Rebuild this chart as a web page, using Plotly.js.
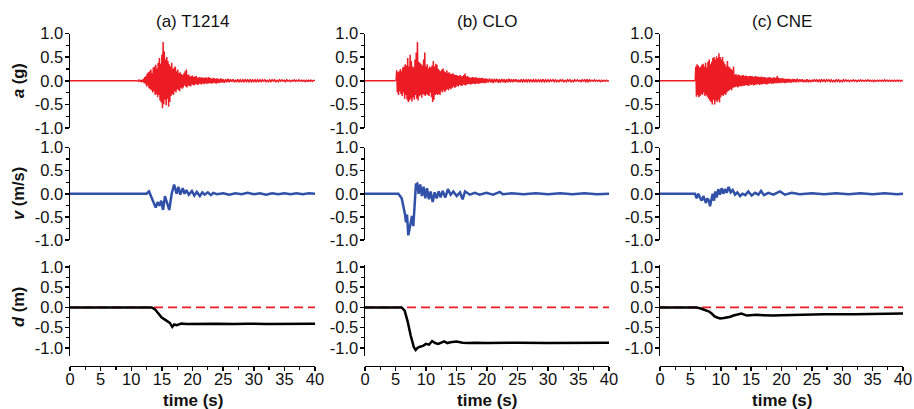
<!DOCTYPE html>
<html><head><meta charset="utf-8">
<script src="https://cdn.plot.ly/plotly-3.0.1.min.js"></script>
<style>html,body{margin:0;padding:0;background:#fff}#chart{width:914px;height:409px}</style>
</head><body><div id="chart"></div>
<script>
// ---------- labels ----------
const stationTitles = ['(a) T1214', '(b) CLO', '(c) CNE'];
const rowTitles = ['<b><i>a</i> (g)</b>', '<b><i>v</i> (m/s)</b>', '<b><i>d</i> (m)</b>'];
const timeTitle = '<b>time (s)</b>';
const timeTicks = [0, 5, 10, 15, 20, 25, 30, 35, 40];
const timeTickText = ['0', '5', '10', '15', '20', '25', '30', '35', '40'];
const timeMinorTicks = [2.5, 7.5, 12.5, 17.5, 22.5, 27.5, 32.5, 37.5];
const ampTicks = [-1, -0.5, 0, 0.5, 1];
const ampTickText = ['-1.0', '-0.5', '0.0', '0.5', '1.0'];
const ampMinorTicks = [-0.75, -0.25, 0.25, 0.75];

// ---------- acceleration (g): event part sampled every 0.1 s, coda every 0.2 s ----------
const accEventStart = [11.0, 5.0, 5.8];
const accEventStep = 0.1;
const accCodaStart = [25.0, 20.0, 22.0];
const accCodaStep = 0.2;

const accEventT1214 = [
  0,-0.01,0.02,-0.01,0.02,-0.02,0.01,-0.03,0.02,-0.02,
  0.04,-0.05,0.08,-0.06,0.1,-0.12,0.15,-0.1,0.18,-0.16,
  0.2,-0.18,0.24,-0.2,0.16,-0.25,0.28,-0.22,0.3,-0.3,
  0.34,-0.28,0.26,-0.35,0.38,-0.3,0.48,-0.42,0.36,-0.46,
  0.55,-0.58,0.82,-0.5,0.62,-0.4,0.45,-0.52,0.5,-0.38,
  0.42,-0.55,0.35,-0.45,0.3,-0.32,0.38,-0.28,0.25,-0.3,
  0.28,-0.22,0.3,-0.25,0.2,-0.18,0.24,-0.2,0.16,-0.22,
  0.18,-0.15,0.14,-0.17,0.12,-0.14,0.16,-0.1,0.2,-0.12,
  0.24,-0.14,0.12,-0.1,0.13,-0.11,0.09,-0.12,0.1,-0.08,
  0.11,-0.09,0.08,-0.1,0.09,-0.07,0.1,-0.08,0.07,-0.09,
  0.07,-0.06,0.08,-0.07,0.06,-0.08,0.07,-0.05,0.06,-0.07,
  0.06,-0.05,0.07,-0.06,0.05,-0.06,0.08,-0.05,0.06,-0.05,
  0.05,-0.06,0.04,-0.05,0.06,-0.04,0.05,-0.05,0.04,-0.06,
  0.05,-0.04,0.04,-0.05,0.03,-0.04,0.05,-0.03,0.04,-0.04,
  0.03];
const accCodaT1214 = [
  0.03,-0.04,0.03,-0.03,0.04,-0.03,0.03,-0.02,0.03,-0.03,
  0.02,-0.03,0.03,-0.02,0.02,-0.03,0.02,-0.02,0.03,-0.02,
  0.02,-0.02,0.03,-0.02,0.02,-0.02,0.02,-0.03,0.02,-0.02,
  0.02,-0.02,0.02,-0.01,0.02,-0.02,0.01,-0.02,0.02,-0.02,
  0.02,-0.01,0.02,-0.02,0.01,-0.02,0.02,-0.01,0.02,-0.01,
  0.01,-0.02,0.02,-0.01,0.01,-0.02,0.01,-0.01,0.02,-0.01,
  0.01,-0.01,0.02,-0.01,0.01,-0.01,0.01,-0.02,0.01,-0.01,
  0.01,-0.01,0.01,-0.01,0.01,0];

const accEventCLO = [
  0,0.01,0.22,-0.25,0.18,-0.3,0.2,-0.22,0.25,-0.28,
  0.2,-0.32,0.28,-0.25,0.3,-0.38,0.35,-0.3,0.32,-0.4,
  0.48,-0.45,0.3,-0.42,0.55,-0.38,0.42,-0.44,0.3,-0.35,
  0.28,-0.4,0.45,-0.3,0.6,-0.38,0.82,-0.42,0.4,-0.33,
  0.38,-0.3,0.35,-0.36,0.32,-0.28,0.45,-0.3,0.6,-0.32,
  0.3,-0.28,0.35,-0.3,0.26,-0.32,0.3,-0.25,0.28,-0.35,
  0.32,-0.45,0.42,-0.4,0.3,-0.3,0.36,-0.28,0.34,-0.3,
  0.25,-0.28,0.22,-0.3,0.2,-0.22,0.24,-0.25,0.26,-0.2,
  0.2,-0.24,0.18,-0.2,0.22,-0.18,0.16,-0.2,0.18,-0.16,
  0.15,-0.18,0.14,-0.15,0.16,-0.12,0.13,-0.15,0.12,-0.13,
  0.12,-0.1,0.11,-0.12,0.1,-0.09,0.12,-0.1,0.09,-0.11,
  0.1,-0.08,0.12,-0.09,0.15,-0.1,0.09,-0.08,0.1,-0.07,
  0.08,-0.07,0.07,-0.08,0.06,-0.07,0.08,-0.06,0.07,-0.06,
  0.06,-0.07,0.07,-0.05,0.06,-0.06,0.05,-0.06,0.06,-0.05,
  0.05,-0.05,0.06,-0.04,0.05,-0.05,0.04,-0.05,0.05,-0.04,
  0.04];
const accCodaCLO = [
  0.04,-0.04,0.05,-0.04,0.04,-0.05,0.04,-0.03,0.04,-0.04,
  0.03,-0.04,0.04,-0.03,0.03,-0.04,0.03,-0.03,0.04,-0.03,
  0.03,-0.03,0.03,-0.02,0.03,-0.03,0.02,-0.03,0.03,-0.02,
  0.02,-0.03,0.02,-0.02,0.03,-0.02,0.02,-0.02,0.02,-0.03,
  0.02,-0.02,0.02,-0.02,0.02,-0.02,0.03,-0.02,0.02,-0.02,
  0.02,-0.02,0.02,-0.01,0.02,-0.02,0.02,-0.02,0.01,-0.02,
  0.02,-0.01,0.02,-0.02,0.01,-0.02,0.02,-0.01,0.02,-0.02,
  0.01,-0.02,0.02,-0.01,0.02,-0.01,0.01,-0.02,0.02,-0.01,
  0.02,-0.02,0.03,-0.03,0.02,-0.01,0.01,-0.01,0.02,-0.01,
  0.01,-0.01,0.01,-0.02,0.01,-0.01,0.01,-0.01,0.01,-0.01,
  0];

const accEventCNE = [
  0,0.3,
  -0.34,0.35,-0.3,0.32,-0.35,0.28,-0.32,0.3,-0.28,0.34,
  -0.3,0.36,-0.25,0.3,-0.32,0.38,-0.3,0.28,-0.34,0.4,
  -0.38,0.45,-0.42,0.35,-0.45,0.4,-0.5,0.48,-0.4,0.5,
  -0.5,0.45,-0.42,0.52,-0.45,0.48,-0.4,0.58,-0.46,0.5,
  -0.35,0.45,-0.3,0.5,-0.32,0.4,-0.28,0.35,-0.3,0.3,
  -0.25,0.42,-0.22,0.3,-0.2,0.28,-0.18,0.25,-0.2,0.22,
  -0.15,0.3,-0.14,0.12,-0.13,0.14,-0.12,0.11,-0.14,0.13,
  -0.12,0.12,-0.11,0.1,-0.12,0.11,-0.1,0.12,-0.11,0.1,
  -0.1,0.11,-0.09,0.1,-0.1,0.09,-0.11,0.1,-0.08,0.1,
  -0.09,0.1,-0.08,0.09,-0.1,0.08,-0.09,0.1,-0.08,0.09,
  -0.08,0.09,-0.07,0.08,-0.09,0.08,-0.07,0.09,-0.08,0.07,
  -0.07,0.08,-0.06,0.07,-0.07,0.06,-0.08,0.07,-0.06,0.07,
  -0.06,0.07,-0.05,0.06,-0.06,0.05,-0.06,0.07,-0.05,0.06,
  -0.05,0.06,-0.05,0.1,-0.05,0.06,-0.04,0.05,-0.05,0.05,
  -0.04,0.05,-0.04,0.05,-0.04,0.04,-0.05,0.04,-0.04,0.04,
  -0.04,0.04,-0.03,0.04,-0.04,0.03,-0.04,0.03,-0.03,0.04,
  -0.03];
const accCodaCNE = [
  -0.03,0.03,-0.03,0.04,-0.03,0.03,-0.02,0.03,-0.03,0.02,
  -0.03,0.03,-0.02,0.02,-0.03,0.02,-0.02,0.03,-0.02,0.02,
  -0.02,0.02,-0.02,0.03,-0.02,0.02,-0.02,0.02,-0.01,0.02,
  -0.02,0.02,-0.02,0.01,-0.02,0.02,-0.01,0.02,-0.02,0.01,
  -0.02,0.02,-0.01,0.02,-0.01,0.01,-0.02,0.01,-0.01,0.02,
  -0.01,0.01,-0.02,0.01,-0.01,0.02,-0.01,0.01,-0.01,0.01,
  -0.01,0.02,-0.01,0.01,-0.01,0.01,-0.02,0.01,-0.01,0.01,
  -0.01,0.01,-0.01,0.01,-0.01,0.02,-0.01,0.01,-0.01,0.01,
  -0.01,0.01,-0.01,0.01,-0.01,0.01,-0.01,0.01,-0.01,0.01,
  0];

// ---------- velocity (m/s) ----------
const velTimeT1214 = [0,12.5,12.9,13.2,13.6,13.8,14.0,14.3,14.6,14.9,15.2,15.5,15.8,16.2,16.6,17.0,17.4,17.7,18.0,18.4,18.7,19.0,19.4,19.9,20.3,20.7,21.2,21.6,22.0,22.5,23.0,23.4,24,25,26,27,28,29,30,31,32,33,34,35,36,37,38,39,40];
const velT1214 = [0,0,0.05,-0.05,-0.2,-0.25,-0.3,-0.18,-0.26,-0.15,-0.35,-0.05,-0.2,-0.35,0.0,0.2,0.0,0.15,-0.02,0.12,0.0,0.08,-0.02,0.06,-0.04,0.04,-0.05,0.03,-0.02,0.03,-0.03,0.02,-0.01,0.01,-0.02,0.01,-0.01,0.02,-0.01,0.01,-0.02,0.01,-0.01,0.01,-0.01,0.01,-0.01,0.01,0];
const velTimeCLO = [0,5.47,6.02,6.39,6.56,6.72,6.89,7.1,7.32,7.49,7.7,7.92,8.14,8.35,8.57,8.79,9.06,9.33,9.6,9.89,10.16,10.48,10.76,11.1,11.42,11.75,12.08,12.4,12.73,13.17,13.6,14.04,14.48,15.03,15.57,16.0,16.4,17.2,18.0,18.8,19.9,21.0,22.1,22.6,24,26,28,30,32,34,36,38,40];
const velCLO = [0,0,-0.1,-0.3,-0.45,-0.62,-0.45,-0.9,-0.75,-0.6,-0.48,-0.7,-0.3,0.2,0.22,0.0,0.2,-0.05,0.15,-0.1,0.12,-0.12,0.05,-0.18,0.03,-0.1,0.05,-0.08,0.06,-0.08,0.1,-0.02,0.05,-0.05,0.03,-0.12,0.05,-0.02,0.02,-0.02,0.02,-0.02,0.04,-0.01,0.01,-0.01,0.01,-0.01,0.01,-0.01,0.01,-0.01,0];
const velTimeCNE = [0,5.76,6.04,6.31,6.58,6.85,7.13,7.35,7.57,7.79,8.07,8.23,8.45,8.67,8.89,9.11,9.33,9.6,9.88,10.15,10.43,10.7,10.98,11.3,11.63,11.96,12.35,12.73,13.17,13.6,14.04,14.54,15.09,15.64,16.19,16.63,17.12,17.84,18.66,19.75,20.57,21.67,23.0,25,27,29,31,33,35,37,39,40];
const velCNE = [0,0,-0.1,0.0,-0.08,-0.15,-0.05,-0.12,-0.2,-0.1,-0.15,-0.27,-0.12,0.0,-0.15,0.05,-0.08,0.1,-0.02,0.12,0.0,0.1,0.02,0.15,0.03,0.08,-0.02,0.03,-0.05,0.0,-0.03,0.05,-0.04,0.02,-0.02,0.06,-0.03,0.02,-0.02,0.05,-0.02,0.02,-0.01,0.01,-0.01,0.01,-0.01,0.01,-0.01,0.01,-0.01,0];

// ---------- displacement (m) ----------
const dispTimeT1214 = [0,13.33,13.9,14.4,14.97,15.5,15.8,16.05,16.3,16.7,17.0,17.4,18.2,19.0,21.2,24.0,26.7,29,32.0,35,38,40];
const dispT1214 = [0,0,-0.05,-0.15,-0.25,-0.3,-0.33,-0.35,-0.38,-0.48,-0.42,-0.44,-0.4,-0.41,-0.4,-0.4,-0.41,-0.4,-0.41,-0.41,-0.41,-0.4];
const dispTimeCLO = [0,6.0,6.5,7.0,7.5,8.0,8.3,8.6,9.0,9.5,10.0,10.5,11.0,11.5,12.0,12.5,13.0,13.5,14.0,15.0,16.0,17.0,18.0,20,22,25,30,35,40];
const dispCLO = [0,0,-0.08,-0.35,-0.7,-0.98,-1.05,-1.0,-0.97,-0.95,-0.9,-0.92,-0.83,-0.88,-0.9,-0.86,-0.84,-0.88,-0.86,-0.84,-0.87,-0.88,-0.87,-0.88,-0.87,-0.87,-0.88,-0.87,-0.87];
const dispTimeCNE = [0,6.0,6.6,7.1,7.7,8.1,8.5,9.0,9.4,9.9,10.5,11.0,11.6,12.1,12.8,13.4,14.3,15.2,15.9,17,18.6,20,23,27,32,36,40];
const dispCNE = [0,0,-0.02,-0.05,-0.08,-0.1,-0.15,-0.22,-0.25,-0.27,-0.26,-0.25,-0.23,-0.2,-0.17,-0.15,-0.2,-0.19,-0.18,-0.19,-0.2,-0.19,-0.18,-0.17,-0.17,-0.16,-0.15];
const zeroRefTime = [0, 40];
const zeroRefValue = [0, 0];

// ---------- assembly ----------
const accEvent = [accEventT1214, accEventCLO, accEventCNE];
const accCoda = [accCodaT1214, accCodaCLO, accCodaCNE];
const velTime = [velTimeT1214, velTimeCLO, velTimeCNE];
const vel = [velT1214, velCLO, velCNE];
const dispTime = [dispTimeT1214, dispTimeCLO, dispTimeCNE];
const disp = [dispT1214, dispCLO, dispCNE];

const W = 914, H = 409;
const fx = p => p / W;
const fy = p => 1 - p / H;
const colPx = [[70, 315], [365, 609], [660, 903]];
const rowPx = [[33.5, 128], [147.5, 240], [265, 356]];
const rowRange = [[-1, 1], [-1, 1], [-1.2, 1.05]];
const xAxisLinePx = 365.7;

const RED = '#ED1C24', BLUE = '#3151A8', BLACK = '#000000';
const FONT = 'Liberation Sans, Arial, sans-serif';
const TICKFONT = {family: FONT, size: 16.5, color: '#111'};

const traces = [];
const layout = {
  width: W, height: H,
  margin: {l: 0, r: 0, t: 0, b: 0},
  paper_bgcolor: '#fff', plot_bgcolor: 'rgba(0,0,0,0)',
  showlegend: false,
  font: {family: FONT, color: '#111'},
  annotations: []
};

function axId(r, c) { return r * 3 + c + 1; }

for (let r = 0; r < 3; r++) {
  for (let c = 0; c < 3; c++) {
    const n = axId(r, c);
    const xn = n === 1 ? 'x' : 'x' + n;
    const yn = n === 1 ? 'y' : 'y' + n;
    const xa = {
      domain: [fx(colPx[c][0]), fx(colPx[c][1])],
      range: [0, 40], fixedrange: true, showgrid: false, zeroline: false
    };
    if (r < 2) {
      xa.visible = false;
      xa.anchor = yn;
    } else {
      Object.assign(xa, {
        anchor: 'free', position: fy(xAxisLinePx),
        showline: true, linecolor: '#000', linewidth: 1.5,
        ticks: 'outside', ticklen: 4, tickwidth: 1.5, tickcolor: '#000',
        tickmode: 'array', tickvals: timeTicks, ticktext: timeTickText,
        tickfont: TICKFONT, ticklabelstandoff: -6,
        minor: {ticks: 'outside', ticklen: 2.5, tickwidth: 1.2, tickcolor: '#000',
                tickmode: 'array', tickvals: timeMinorTicks, showgrid: false}
      });
    }
    const ya = {
      domain: [fy(rowPx[r][1]), fy(rowPx[r][0])],
      range: rowRange[r], anchor: xn, fixedrange: true,
      showgrid: false, zeroline: false,
      showline: true, linecolor: '#000', linewidth: 1.5,
      ticks: 'outside', ticklen: 4, tickwidth: 1.5, tickcolor: '#000',
      tickmode: 'array', tickvals: ampTicks, ticktext: ampTickText,
      tickfont: TICKFONT, ticklabelstandoff: -2,
      minor: {ticks: 'outside', ticklen: 2.5, tickwidth: 1.2, tickcolor: '#000',
              tickmode: 'array', tickvals: ampMinorTicks, showgrid: false}
    };
    layout['xaxis' + (n === 1 ? '' : n)] = xa;
    layout['yaxis' + (n === 1 ? '' : n)] = ya;

    const base = {type: 'scatter', mode: 'lines', xaxis: xn, yaxis: yn, hoverinfo: 'skip'};
    if (r === 0) {
      const ln = {color: RED, width: 1.5};
      traces.push(Object.assign({}, base, {x: [0, accEventStart[c]], y: [0, 0], line: ln}));
      traces.push(Object.assign({}, base, {y: accEvent[c], x0: accEventStart[c], dx: accEventStep, line: ln}));
      traces.push(Object.assign({}, base, {y: accCoda[c], x0: accCodaStart[c], dx: accCodaStep, line: ln}));
    } else if (r === 1) {
      traces.push(Object.assign({}, base, {x: velTime[c], y: vel[c], line: {color: BLUE, width: 2.5}}));
    } else {
      traces.push(Object.assign({}, base, {x: zeroRefTime, y: zeroRefValue, line: {color: RED, width: 1.8, dash: '9px,5px'}}));
      traces.push(Object.assign({}, base, {x: dispTime[c], y: disp[c], line: {color: BLACK, width: 2.5}}));
    }
  }
}

// column titles and x-axis titles
for (let c = 0; c < 3; c++) {
  const cx = fx((colPx[c][0] + colPx[c][1]) / 2);
  layout.annotations.push({xref: 'paper', yref: 'paper', x: cx, y: fy(21.7), xanchor: 'center', yanchor: 'middle',
    text: stationTitles[c], showarrow: false, font: {family: FONT, size: 17, color: '#111'}});
  layout.annotations.push({xref: 'paper', yref: 'paper', x: cx, y: fy(400), xanchor: 'center', yanchor: 'middle',
    text: timeTitle, showarrow: false, font: {family: FONT, size: 17, color: '#111'}});
}
// row titles
const rowTitleCenterPx = [81, 194, 307];
for (let r = 0; r < 3; r++) {
  layout.annotations.push({xref: 'paper', yref: 'paper', x: fx(18), y: fy(rowTitleCenterPx[r]), xanchor: 'center', yanchor: 'middle',
    text: rowTitles[r], textangle: -90, showarrow: false, font: {family: FONT, size: 16.5, color: '#111'}});
}

Plotly.newPlot('chart', traces, layout, {staticPlot: true, displayModeBar: false});
</script>
</body></html>
